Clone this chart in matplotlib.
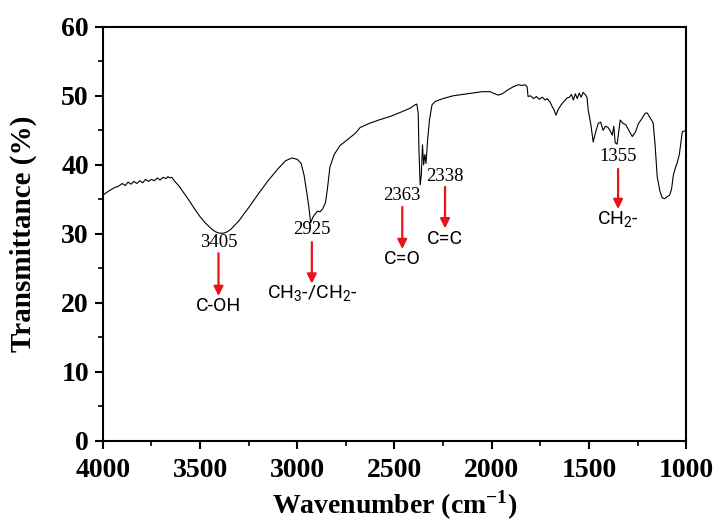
import matplotlib
matplotlib.use("Agg")
import matplotlib.pyplot as plt
from matplotlib.ticker import MultipleLocator

# FTIR spectrum (wavenumber cm^-1, transmittance %)
wavenumber = [4000, 3970, 3940, 3920, 3900, 3885, 3870, 3855, 3840, 3825, 3810, 3795, 3780,
              3765, 3750, 3735, 3720, 3705, 3690, 3675, 3665, 3655, 3645, 3630, 3610, 3590,
              3560, 3530, 3500, 3470, 3440, 3420, 3400, 3380, 3360, 3340, 3300, 3250, 3200,
              3150, 3100, 3060, 3027, 3000, 2980, 2965, 2950, 2940, 2931, 2920, 2905, 2895,
              2883, 2870, 2855, 2845, 2832, 2810, 2780, 2740, 2700, 2677, 2630, 2580, 2523,
              2470, 2420, 2394, 2385, 2378, 2374, 2368, 2362, 2356, 2350, 2344, 2338, 2330,
              2320, 2307, 2290, 2250, 2199, 2150, 2100, 2049, 2010, 1985, 1967, 1945, 1920,
              1890, 1864, 1845, 1828, 1818, 1813, 1800, 1785, 1770, 1755, 1740, 1725, 1715,
              1700, 1690, 1680, 1669, 1660, 1650, 1640, 1625, 1612, 1600, 1590, 1580, 1570,
              1560, 1550, 1540, 1530, 1520, 1510, 1504, 1490, 1478, 1465, 1452, 1440, 1427,
              1415, 1401, 1390, 1380, 1372, 1365, 1355, 1339, 1325, 1310, 1295, 1277, 1260,
              1245, 1230, 1221, 1210, 1200, 1185, 1170, 1160, 1149, 1135, 1123, 1110, 1097,
              1085, 1075, 1066, 1055, 1046, 1035, 1020, 1010, 1000]
transmittance = [35.6, 36.2, 36.7, 36.9, 37.3, 37.0, 37.5, 37.2, 37.6, 37.3, 37.7, 37.4, 37.9,
                 37.6, 37.9, 37.7, 38.1, 37.8, 38.2, 38.0, 38.3, 38.1, 38.2, 37.6, 37.0, 36.2,
                 35.0, 33.7, 32.5, 31.5, 30.7, 30.3, 30.1, 30.1, 30.3, 30.7, 31.9, 33.8, 35.8,
                 37.7, 39.4, 40.6, 41.0, 40.8, 40.2, 38.5, 35.8, 33.8, 31.6, 32.4, 33.0, 33.3,
                 33.2, 33.6, 34.5, 36.5, 39.7, 41.5, 42.8, 43.7, 44.6, 45.4, 46.0, 46.5, 47.0,
                 47.6, 48.2, 48.7, 48.8, 47.5, 42.0, 37.1, 38.5, 42.9, 40.0, 41.5, 40.2, 43.5,
                 46.5, 48.7, 49.2, 49.6, 50.0, 50.2, 50.4, 50.6, 50.6, 50.3, 50.1, 50.3, 50.8,
                 51.3, 51.6, 51.5, 51.6, 51.3, 49.9, 50.0, 49.6, 49.9, 49.5, 49.8, 49.4, 49.6,
                 49.1, 48.5, 48.0, 47.2, 47.9, 48.4, 48.8, 49.3, 49.7, 49.8, 50.2, 49.4, 50.3,
                 49.6, 50.4, 49.8, 50.5, 50.2, 49.8, 48.0, 45.8, 43.3, 44.8, 46.0, 46.2, 45.0,
                 45.6, 45.4, 44.9, 44.3, 45.6, 43.2, 43.0, 46.5, 46.0, 45.8, 45.0, 44.1, 44.8,
                 46.0, 46.6, 47.0, 47.5, 47.5, 46.8, 46.1, 43.0, 38.3, 36.2, 35.2, 35.1, 35.4,
                 35.6, 36.5, 38.5, 39.6, 40.3, 41.5, 44.8, 44.9, 45.0]

# Peak annotations
peak_labels = ["3405", "2925", "2363", "2338", "1355"]
peak_text_x = [3405, 2925, 2460, 2240, 1350]
peak_num_y = [28.8, 30.6, 35.6, 38.3, 41.2]
arrow_top_y = [27.2, 28.8, 33.9, 36.8, 39.4]
arrow_bot_y = [21.0, 22.8, 27.8, 30.8, 33.6]
group_labels = [r"C-OH", r"CH$_3$-/CH$_2$-", r"C=O", r"C=C", r"CH$_2$-"]
group_y = [19.6, 21.4, 26.3, 29.2, 32.2]

x_ticks = [4000, 3500, 3000, 2500, 2000, 1500, 1000]
y_ticks = [0, 10, 20, 30, 40, 50, 60]

plt.rcParams['mathtext.fontset'] = 'custom'
plt.rcParams['mathtext.rm'] = 'Roboto'
plt.rcParams['mathtext.it'] = 'Roboto'
plt.rcParams['mathtext.bf'] = 'Liberation Serif:bold'

fig = plt.figure(figsize=(7.14, 5.25), dpi=100)
ax = fig.add_axes([0.144, 0.160, 0.817, 0.789])

ax.plot(wavenumber, transmittance, color='black', lw=0.8)

ax.set_xlim(4000, 1000)
ax.set_ylim(0, 60)
ax.set_xticks(x_ticks)
ax.set_yticks(y_ticks)
ax.xaxis.set_minor_locator(MultipleLocator(250))
ax.yaxis.set_minor_locator(MultipleLocator(5))
ax.tick_params(which='major', direction='out', length=6, width=1.5,
               top=False, right=False, labelsize=20)
ax.tick_params(axis='x', which='major', pad=6)
ax.tick_params(axis='y', which='major', pad=4)
ax.tick_params(which='minor', direction='out', length=3.5, width=1.2, top=False, right=False)
for lab in ax.get_xticklabels() + ax.get_yticklabels():
    lab.set_fontfamily('Liberation Serif')
    lab.set_fontweight('bold')
for sp in ax.spines.values():
    sp.set_linewidth(1.5)

ax.set_xlabel(r"Wavenumber (cm$^{\mathbf{-1}}$)", fontsize=20, fontweight='bold',
              fontfamily='Liberation Serif')
ax.set_ylabel("Transmittance (%)", fontsize=21, fontweight='bold',
              fontfamily='Liberation Serif')
ax.xaxis.set_label_coords(0.5, -0.115)
ax.yaxis.set_label_coords(-0.113, 0.5)

for i in range(len(peak_labels)):
    ax.text(peak_text_x[i], peak_num_y[i], peak_labels[i], ha='center', va='center',
            fontsize=13.5, fontfamily='Liberation Serif')
    ax.annotate("", xy=(peak_text_x[i], arrow_bot_y[i]), xytext=(peak_text_x[i], arrow_top_y[i]),
                arrowprops=dict(arrowstyle='-|>', color='#e8141c', lw=1.6, mutation_scale=14,
                                shrinkA=0, shrinkB=0))
    ax.text(peak_text_x[i], group_y[i], group_labels[i], ha='center', va='center',
            fontsize=14, fontfamily=['Roboto', 'DejaVu Sans'])

fig.savefig("out.png", dpi=100)
